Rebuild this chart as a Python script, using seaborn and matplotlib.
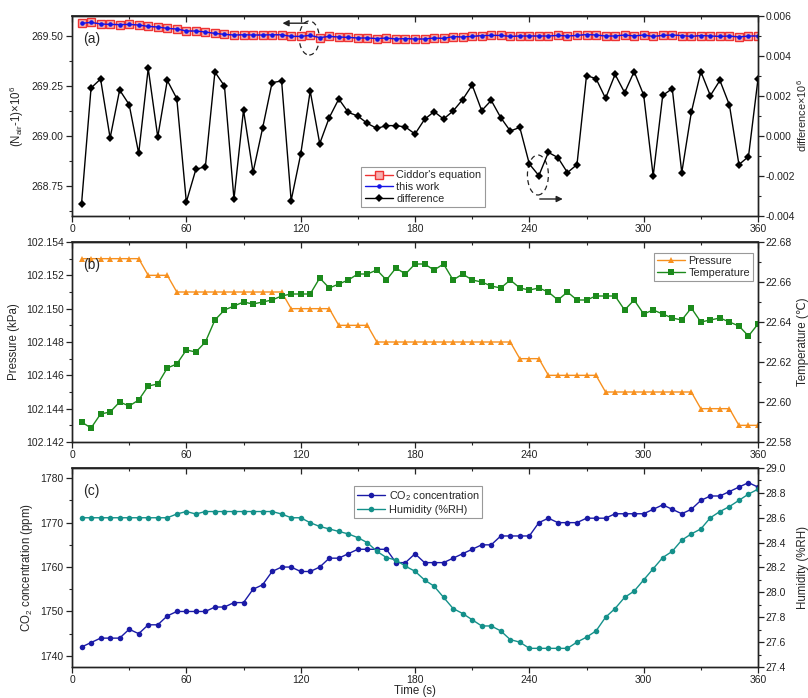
import matplotlib
matplotlib.use("Agg")
import matplotlib.pyplot as plt
import seaborn as sns
from matplotlib.patches import Ellipse
from matplotlib.ticker import MultipleLocator, FormatStrFormatter

sns.set_theme(style="ticks")
plt.rcParams['font.family'] = ['Liberation Sans', 'DejaVu Sans']
plt.rcParams['axes.unicode_minus'] = False
plt.rcParams['mathtext.fontset'] = 'custom'
plt.rcParams['mathtext.rm'] = 'Liberation Sans'
plt.rcParams['mathtext.it'] = 'Liberation Sans'

time_s = [5, 10, 15, 20, 25, 30, 35, 40, 45, 50, 55, 60, 65, 70, 75, 80, 85, 90,
          95, 100, 105, 110, 115, 120, 125, 130, 135, 140, 145, 150, 155, 160, 165, 170,
          175, 180, 185, 190, 195, 200, 205, 210, 215, 220, 225, 230, 235, 240, 245, 250,
          255, 260, 265, 270, 275, 280, 285, 290, 295, 300, 305, 310, 315, 320, 325, 330,
          335, 340, 345, 350, 355, 360]

ciddor = [269.563, 269.568, 269.560, 269.558, 269.557, 269.558, 269.555, 269.548, 269.545,
          269.538, 269.535, 269.525, 269.525, 269.520, 269.513, 269.508, 269.505, 269.506,
          269.505, 269.505, 269.506, 269.506, 269.498, 269.498, 269.503, 269.492, 269.498,
          269.495, 269.493, 269.490, 269.490, 269.487, 269.490, 269.485, 269.487, 269.485,
          269.485, 269.490, 269.488, 269.497, 269.495, 269.498, 269.502, 269.503, 269.503,
          269.498, 269.500, 269.500, 269.500, 269.500, 269.503, 269.500, 269.503, 269.507,
          269.505, 269.500, 269.500, 269.505, 269.500, 269.505, 269.498, 269.503, 269.505,
          269.502, 269.498, 269.502, 269.500, 269.498, 269.500, 269.495, 269.500, 269.500]

this_work = [269.563, 269.568, 269.560, 269.558, 269.557, 269.558, 269.555, 269.548, 269.545,
             269.538, 269.535, 269.525, 269.525, 269.520, 269.513, 269.508, 269.505, 269.506,
             269.505, 269.505, 269.506, 269.506, 269.498, 269.498, 269.503, 269.492, 269.498,
             269.495, 269.493, 269.490, 269.490, 269.487, 269.490, 269.485, 269.487, 269.485,
             269.485, 269.490, 269.488, 269.497, 269.495, 269.498, 269.502, 269.503, 269.503,
             269.498, 269.500, 269.500, 269.500, 269.500, 269.503, 269.500, 269.503, 269.507,
             269.505, 269.500, 269.500, 269.505, 269.500, 269.505, 269.498, 269.503, 269.505,
             269.502, 269.498, 269.502, 269.500, 269.498, 269.500, 269.495, 269.500, 269.500]

difference = [-0.0034, 0.0024, 0.00285, -0.0001, 0.0023, 0.00157, -0.00087, 0.00338, -0.00005,
              0.00278, 0.00187, -0.0033, -0.00167, -0.00153, 0.0032, 0.0025, -0.00315, 0.0013,
              -0.00182, 0.00038, 0.00267, 0.00275, -0.00323, -0.00092, 0.00225, -0.00038, 0.00092,
              0.00185, 0.00118, 0.001, 0.00063, 0.00038, 0.00052, 0.00052, 0.00045, 0.0001,
              0.00083, 0.00122, 0.00085, 0.00125, 0.00182, 0.00255, 0.00127, 0.00178, 0.00092,
              0.00025, 0.00043, -0.0014, -0.00198, -0.00082, -0.00108, -0.00183, -0.00143, 0.00302,
              0.00287, 0.00188, 0.00308, 0.00217, 0.00322, 0.00205, -0.002, 0.00203, 0.00237,
              -0.00183, 0.00118, 0.00322, 0.00202, 0.00278, 0.00155, -0.00143, -0.00103, 0.00285]

pressure = [102.153] * 7 + [102.152] * 3 + [102.151] * 12 + [102.150] * 5 + [102.149] * 4 + \
           [102.148] * 15 + [102.147] * 3 + [102.146] * 6 + [102.145] * 10 + [102.144] * 4 + \
           [102.143] * 3

temperature = [22.590, 22.587, 22.594, 22.595, 22.600, 22.598, 22.601, 22.608, 22.609, 22.617,
               22.619, 22.626, 22.625, 22.630, 22.641, 22.646, 22.648, 22.650, 22.649, 22.650,
               22.651, 22.653, 22.654, 22.654, 22.654, 22.662, 22.657, 22.659, 22.661, 22.664,
               22.664, 22.666, 22.661, 22.667, 22.664, 22.669, 22.669, 22.666, 22.669, 22.661,
               22.664, 22.661, 22.660, 22.658, 22.657, 22.661, 22.657, 22.656, 22.657, 22.655,
               22.651, 22.655, 22.651, 22.651, 22.653, 22.653, 22.653, 22.646, 22.651, 22.644,
               22.646, 22.644, 22.642, 22.641, 22.647, 22.640, 22.641, 22.642, 22.640, 22.638,
               22.633, 22.639]

co2 = [1742, 1743, 1744, 1744, 1744, 1746, 1745, 1747, 1747, 1749, 1750, 1750, 1750, 1750,
       1751, 1751, 1752, 1752, 1755, 1756, 1759, 1760, 1760, 1759, 1759, 1760, 1762, 1762,
       1763, 1764, 1764, 1764, 1764, 1761, 1761, 1763, 1761, 1761, 1761, 1762, 1763, 1764,
       1765, 1765, 1767, 1767, 1767, 1767, 1770, 1771, 1770, 1770, 1770, 1771, 1771, 1771,
       1772, 1772, 1772, 1772, 1773, 1774, 1773, 1772, 1773, 1775, 1776, 1776, 1777, 1778,
       1779, 1778]

humidity = [28.60, 28.60, 28.60, 28.60, 28.60, 28.60, 28.60, 28.60, 28.60, 28.60,
            28.63, 28.65, 28.63, 28.65, 28.65, 28.65, 28.65, 28.65, 28.65, 28.65, 28.65,
            28.63, 28.60, 28.60, 28.56, 28.53, 28.51, 28.49, 28.47, 28.44, 28.40, 28.33,
            28.28, 28.26, 28.21, 28.17, 28.10, 28.05, 27.96, 27.87, 27.83, 27.78, 27.73,
            27.73, 27.69, 27.62, 27.60, 27.55, 27.55, 27.55, 27.55, 27.55, 27.60, 27.64,
            27.69, 27.80, 27.87, 27.96, 28.01, 28.10, 28.19, 28.28, 28.33, 28.42, 28.47,
            28.51, 28.60, 28.65, 28.69, 28.74, 28.79, 28.83]

TICK_FS = 7.5
LAB_FS = 8.3
LEG_FS = 7.8
fig = plt.figure(figsize=(8.08, 6.98), dpi=100)
left, width = 72 / 808, 686 / 808
axa = fig.add_axes([left, 1 - 216 / 698, width, 200 / 698])
axb = fig.add_axes([left, 1 - 442 / 698, width, 200 / 698])
axc = fig.add_axes([left, 1 - 667 / 698, width, 199 / 698])
axa2, axb2, axc2 = axa.twinx(), axb.twinx(), axc.twinx()


def style_axes(ax, ax2, label_x=1.057):
    ax.set_xlim(0, 360)
    ax.xaxis.set_major_locator(MultipleLocator(60))
    ax.xaxis.set_minor_locator(MultipleLocator(30))
    for a in (ax, ax2):
        for s in a.spines.values():
            s.set_color('#222222')
            s.set_linewidth(1.0)
        a.tick_params(which='major', direction='out', length=4, width=0.9,
                      labelsize=TICK_FS, colors='#222222', pad=2)
        a.tick_params(which='minor', direction='out', length=2.5, width=0.8)
        a.grid(False)
    ax2.tick_params(axis='y', pad=1.5)
    ax2.yaxis.set_label_coords(label_x, 0.5)
    top = ax.secondary_xaxis('top')
    top.xaxis.set_major_locator(MultipleLocator(60))
    top.xaxis.set_minor_locator(MultipleLocator(30))
    top.tick_params(which='major', direction='in', length=4, width=0.9, labeltop=False)
    top.tick_params(which='minor', direction='in', length=2.5, width=0.8)


def add_legend(ax, ax2, **kw):
    h1, l1 = ax.get_legend_handles_labels()
    h2, l2 = ax2.get_legend_handles_labels()
    leg = ax2.legend(h1 + h2, l1 + l2, fontsize=LEG_FS, frameon=True, fancybox=False,
                     edgecolor='#999999', framealpha=1, handlelength=2.6,
                     labelspacing=0.15, borderpad=0.3, handletextpad=0.3,
                     borderaxespad=0, **kw)
    leg.get_frame().set_linewidth(0.8)


# panel (a)
sns.lineplot(x=time_s, y=ciddor, ax=axa, color='#ee3333', marker='s', markersize=5.5,
             markerfacecolor='#f7b0b0', markeredgecolor='#ee3333', markeredgewidth=1.0,
             lw=1.0, label="Ciddor's equation", legend=False)
sns.lineplot(x=time_s, y=this_work, ax=axa, color='#1515e6', marker='o', markersize=3.3,
             markeredgewidth=0, lw=1.0, label='this work', legend=False)
sns.lineplot(x=time_s, y=difference, ax=axa2, color='black', marker='D', markersize=4,
             markeredgewidth=0, lw=1.0, label='difference', legend=False)
axa.set_ylim(268.6, 269.6)
axa.yaxis.set_major_locator(MultipleLocator(0.25))
axa.yaxis.set_minor_locator(MultipleLocator(0.125))
axa.yaxis.set_major_formatter(FormatStrFormatter('%.2f'))
axa2.set_ylim(-0.004, 0.006)
axa2.yaxis.set_major_locator(MultipleLocator(0.002))
axa2.yaxis.set_minor_locator(MultipleLocator(0.001))
axa2.yaxis.set_major_formatter(FormatStrFormatter('%.3f'))
axa.set_ylabel(r'(N$_{air}$-1)×10$^6$', fontsize=LAB_FS, labelpad=4)
axa2.set_ylabel(r'difference×10$^6$', fontsize=7.9)
style_axes(axa, axa2, label_x=1.054)
add_legend(axa, axa2, loc='lower left', bbox_to_anchor=(0.422, 0.045))
axa.text(0.016, 0.865, '(a)', transform=axa.transAxes, fontsize=10)

axa.add_patch(Ellipse((124.5, 269.49), 10.5, 0.17, fill=False, ls=(0, (4, 3)), lw=0.9,
                      color='#222222'))
axa.annotate('', xy=(109, 269.564), xytext=(125, 269.564),
             arrowprops=dict(arrowstyle='-|>', color='#222222', lw=1.0, mutation_scale=9))
axa2.add_patch(Ellipse((244.5, -0.00195), 11, 0.002, fill=False, ls=(0, (4, 3)), lw=0.9,
                       color='#222222'))
axa2.annotate('', xy=(259, -0.00315), xytext=(244, -0.00315),
              arrowprops=dict(arrowstyle='-|>', color='#222222', lw=1.0, mutation_scale=9))

# panel (b)
sns.lineplot(x=time_s, y=pressure, ax=axb, color='#f7901e', marker='^', markersize=4.5,
             markeredgewidth=0, lw=1.0, label='Pressure', legend=False)
sns.lineplot(x=time_s, y=temperature, ax=axb2, color='#1c8a1c', marker='s', markersize=4,
             markeredgewidth=0, lw=1.0, label='Temperature', legend=False)
axb.set_ylim(102.142, 102.154)
axb.yaxis.set_major_locator(MultipleLocator(0.002))
axb.yaxis.set_minor_locator(MultipleLocator(0.001))
axb.yaxis.set_major_formatter(FormatStrFormatter('%.3f'))
axb2.set_ylim(22.58, 22.68)
axb2.yaxis.set_major_locator(MultipleLocator(0.02))
axb2.yaxis.set_minor_locator(MultipleLocator(0.01))
axb2.yaxis.set_major_formatter(FormatStrFormatter('%.2f'))
axb.set_ylabel('Pressure (kPa)', fontsize=LAB_FS, labelpad=4)
axb2.set_ylabel('Temperature (℃)', fontsize=LAB_FS)
style_axes(axb, axb2)
add_legend(axb, axb2, loc='upper right', bbox_to_anchor=(0.993, 0.945))
axb.text(0.016, 0.865, '(b)', transform=axb.transAxes, fontsize=10)

# panel (c)
sns.lineplot(x=time_s, y=co2, ax=axc, color='#1a1aa6', marker='o', markersize=4,
             markeredgewidth=0, lw=1.0, label=r'CO$_2$ concentration', legend=False)
sns.lineplot(x=time_s, y=humidity, ax=axc2, color='#14908a', marker='o', markersize=4,
             markeredgewidth=0, lw=1.0, label='Humidity (%RH)', legend=False)
axc.set_ylim(1737.5, 1782.3)
axc.yaxis.set_major_locator(MultipleLocator(10))
axc.yaxis.set_minor_locator(MultipleLocator(5))
axc2.set_ylim(27.4, 29.0)
axc2.yaxis.set_major_locator(MultipleLocator(0.2))
axc2.yaxis.set_minor_locator(MultipleLocator(0.1))
axc2.yaxis.set_major_formatter(FormatStrFormatter('%.1f'))
axc.set_ylabel(r'CO$_2$ concentration (ppm)', fontsize=LAB_FS, labelpad=4)
axc2.set_ylabel('Humidity (%RH)', fontsize=LAB_FS)
axc.set_xlabel('Time (s)', fontsize=LAB_FS, labelpad=0)
style_axes(axc, axc2)
add_legend(axc, axc2, loc='upper left', bbox_to_anchor=(0.411, 0.91))
axc.text(0.016, 0.865, '(c)', transform=axc.transAxes, fontsize=10)

fig.savefig('out.png', dpi=100)
